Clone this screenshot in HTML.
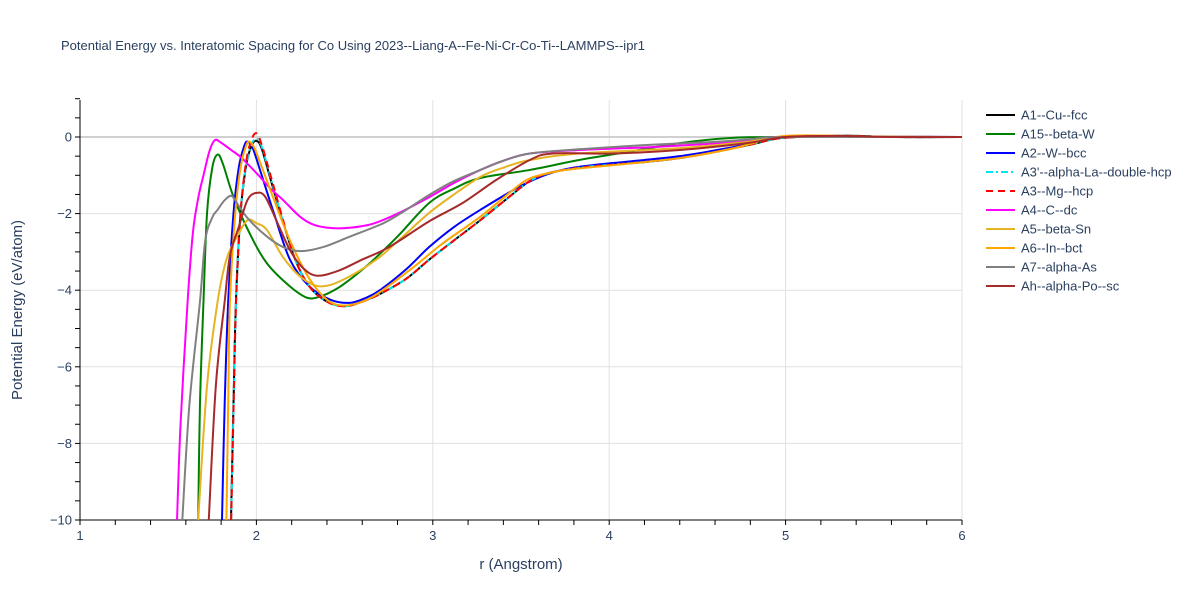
<!DOCTYPE html>
<html><head><meta charset="utf-8"><style>
body{margin:0;background:#fff;font-family:"Liberation Sans",Arial,sans-serif}
svg text{font-family:"Liberation Sans",Arial,sans-serif}
</style></head><body>
<svg id="c" width="1200" height="600" xmlns="http://www.w3.org/2000/svg">
<rect width="1200" height="600" fill="#fff"/>
<text x="61" y="50" font-size="13" fill="#2a3f5f">Potential Energy vs. Interatomic Spacing for Co Using 2023--Liang-A--Fe-Ni-Cr-Co-Ti--LAMMPS--ipr1</text>
<g id="grid"></g><g id="axes"></g>
<defs><clipPath id="pc"><rect x="80" y="100" width="882" height="420"/></clipPath></defs>
<g id="series" clip-path="url(#pc)"></g>
<g id="legend"></g>
<text x="521" y="569" font-size="15" fill="#2a3f5f" text-anchor="middle">r (Angstrom)</text>
<text transform="translate(22,310) rotate(-90)" font-size="15" fill="#2a3f5f" text-anchor="middle">Potential Energy (eV/atom)</text>
</svg>
<script>
const xTicks=[1,2,3,4,5,6];
const yTicks=[0,-2,-4,-6,-8,-10];
const seriesNames=["A1--Cu--fcc","A15--beta-W","A2--W--bcc","A3'--alpha-La--double-hcp","A3--Mg--hcp","A4--C--dc","A5--beta-Sn","A6--In--bct","A7--alpha-As","Ah--alpha-Po--sc"];
const seriesColors=["#000000","#008000","#0000ff","#00e5ee","#ff0000","#ff00ff","#e6b422","#ffa500","#808080","#a52a2a"];
const seriesDash=["","","","7,3,2,3","7,5","","","","",""];
const sA1=[[1.856,-10],[1.87,-7],[1.884,-4.3],[1.91,-2],[1.94,-0.8],[1.97,-0.25],[2.0,-0.1],[2.03,-0.3],[2.08,-1.1],[2.15,-2.2],[2.22,-3.2],[2.3,-3.9],[2.4,-4.3],[2.5,-4.42],[2.6,-4.3],[2.7,-4.1],[2.85,-3.7],[2.98,-3.2],[3.12,-2.7],[3.27,-2.17],[3.45,-1.5],[3.55,-1.15],[3.65,-0.95],[3.83,-0.8],[4.0,-0.73],[4.21,-0.65],[4.4,-0.55],[4.59,-0.4],[4.8,-0.2],[4.97,-0.03],[5.2,0.02],[5.4,0.03],[5.6,0],[6,0]];
const sA15=[[1.67,-10],[1.68,-7],[1.70,-4.3],[1.72,-2],[1.75,-0.8],[1.78,-0.46],[1.81,-0.7],[1.87,-1.56],[1.96,-2.5],[2.06,-3.3],[2.19,-3.9],[2.29,-4.2],[2.37,-4.15],[2.46,-3.95],[2.55,-3.65],[2.63,-3.35],[2.70,-3.05],[2.81,-2.55],[2.98,-1.72],[3.12,-1.35],[3.27,-1.07],[3.55,-0.86],[3.83,-0.6],[4.12,-0.38],[4.4,-0.16],[4.68,-0.03],[5.0,0],[6,0]];
const sA2=[[1.805,-10],[1.82,-7],[1.84,-4.3],[1.87,-2],[1.9,-0.8],[1.93,-0.25],[1.95,-0.12],[1.98,-0.3],[2.03,-1.0],[2.1,-2.0],[2.19,-3.2],[2.3,-3.9],[2.42,-4.25],[2.53,-4.33],[2.62,-4.2],[2.7,-4.0],[2.85,-3.45],[2.98,-2.87],[3.12,-2.35],[3.27,-1.9],[3.49,-1.3],[3.65,-0.97],[3.8,-0.8],[4.02,-0.68],[4.2,-0.6],[4.4,-0.5],[4.6,-0.35],[4.78,-0.2],[5.0,0],[6,0]];
const sA3p=[[1.857,-10],[1.871,-7],[1.885,-4.3],[1.91,-2],[1.94,-0.8],[1.97,-0.22],[2.0,-0.05],[2.03,-0.25],[2.08,-1.05],[2.15,-2.2],[2.22,-3.2],[2.3,-3.9],[2.4,-4.3],[2.5,-4.42],[2.6,-4.3],[2.7,-4.1],[2.85,-3.7],[2.98,-3.2],[3.12,-2.7],[3.27,-2.17],[3.45,-1.5],[3.55,-1.15],[3.65,-0.95],[3.83,-0.8],[4.0,-0.73],[4.21,-0.65],[4.4,-0.55],[4.59,-0.4],[4.8,-0.2],[4.97,-0.03],[5.2,0.02],[5.4,0.03],[5.6,0],[6,0]];
const sA3=[[1.857,-10],[1.871,-7],[1.885,-4.3],[1.91,-2],[1.94,-0.7],[1.97,-0.1],[2.0,0.1],[2.03,-0.2],[2.08,-1.0],[2.15,-2.15],[2.22,-3.2],[2.3,-3.9],[2.4,-4.3],[2.5,-4.42],[2.6,-4.3],[2.7,-4.1],[2.85,-3.7],[2.98,-3.2],[3.12,-2.7],[3.27,-2.17],[3.45,-1.5],[3.55,-1.15],[3.65,-0.95],[3.83,-0.8],[4.0,-0.73],[4.21,-0.65],[4.4,-0.55],[4.59,-0.4],[4.8,-0.2],[4.97,-0.03],[5.2,0.02],[5.4,0.03],[5.6,0],[6,0]];
const sA4=[[1.55,-10],[1.57,-7.5],[1.61,-4.3],[1.64,-2.5],[1.67,-1.6],[1.70,-1.0],[1.735,-0.35],[1.765,-0.08],[1.8,-0.15],[1.86,-0.35],[1.91,-0.52],[1.96,-0.75],[2.02,-1.04],[2.08,-1.35],[2.15,-1.64],[2.25,-2.09],[2.33,-2.3],[2.43,-2.38],[2.53,-2.37],[2.63,-2.3],[2.70,-2.2],[2.81,-1.98],[2.98,-1.57],[3.12,-1.2],[3.27,-0.86],[3.4,-0.62],[3.55,-0.43],[3.83,-0.34],[4.21,-0.27],[4.59,-0.17],[4.8,-0.08],[5,0],[6,0]];
const sA5=[[1.67,-10],[1.72,-6.5],[1.78,-4.3],[1.83,-3.2],[1.89,-2.6],[1.95,-2.17],[2.0,-2.25],[2.06,-2.43],[2.15,-3.13],[2.25,-3.65],[2.36,-3.9],[2.49,-3.73],[2.68,-3.2],[2.83,-2.6],[2.98,-1.98],[3.12,-1.5],[3.27,-1.04],[3.4,-0.8],[3.55,-0.6],[3.83,-0.43],[4.4,-0.29],[4.78,-0.13],[5,0],[6,0]];
const sA6=[[1.83,-10],[1.84,-7],[1.85,-4.3],[1.88,-2],[1.91,-0.8],[1.94,-0.25],[1.96,-0.12],[1.99,-0.3],[2.04,-0.9],[2.1,-1.64],[2.19,-2.7],[2.3,-3.7],[2.4,-4.25],[2.49,-4.4],[2.6,-4.3],[2.7,-4.05],[2.89,-3.4],[3.05,-2.8],[3.27,-2.08],[3.45,-1.4],[3.55,-1.08],[3.7,-0.9],[3.83,-0.82],[4.1,-0.7],[4.4,-0.55],[4.7,-0.3],[4.9,-0.05],[5.0,0.03],[5.2,0.04],[5.5,0.01],[6,0]];
const sA7=[[1.58,-10],[1.62,-7],[1.68,-4.3],[1.71,-2.7],[1.75,-2.1],[1.78,-1.9],[1.82,-1.65],[1.86,-1.54],[1.9,-1.8],[1.96,-2.17],[2.06,-2.6],[2.15,-2.87],[2.25,-2.98],[2.38,-2.87],[2.53,-2.6],[2.72,-2.25],[2.85,-1.9],[2.98,-1.51],[3.12,-1.15],[3.27,-0.86],[3.4,-0.62],[3.55,-0.43],[3.83,-0.32],[4.21,-0.21],[4.59,-0.13],[4.8,-0.06],[5,0],[6,0]];
const sAh=[[1.73,-10],[1.77,-6.5],[1.82,-4.3],[1.85,-3.1],[1.90,-2.35],[1.95,-1.64],[2.0,-1.46],[2.05,-1.56],[2.12,-2.25],[2.19,-2.95],[2.26,-3.4],[2.34,-3.62],[2.46,-3.5],[2.6,-3.2],[2.75,-2.88],[2.98,-2.2],[3.17,-1.72],[3.36,-1.12],[3.55,-0.6],[3.68,-0.43],[4.02,-0.43],[4.4,-0.34],[4.78,-0.16],[5,0],[5.3,0.03],[5.6,0],[6,0]];
const allSeries=[sA1,sA15,sA2,sA3p,sA3,sA4,sA5,sA6,sA7,sAh];
const NS="http://www.w3.org/2000/svg";
const X0=80,X1=962,Y0=137,YS=38.3;
function xs(r){return X0+(r-1)*(X1-X0)/5;}
function ys(e){return Y0-e*YS;}
function mk(t,a,p){const e=document.createElementNS(NS,t);for(const k in a)e.setAttribute(k,a[k]);p.appendChild(e);return e;}
const grid=document.getElementById('grid'),axes=document.getElementById('axes');
xTicks.slice(1).forEach(t=>{const l=mk('line',{x1:xs(t),x2:xs(t),y1:100,y2:520,stroke:'#e0e0e0','stroke-width':1},grid);

});
yTicks.slice(0,5).forEach(t=>{const l=mk('line',{x1:80,x2:962,y1:ys(t),y2:ys(t),stroke:t===0?'#d0d0d0':'#e0e0e0','stroke-width':t===0?2:1},grid);

});
mk('line',{x1:80,x2:80,y1:100,y2:520,stroke:'#000'},axes);
mk('line',{x1:80,x2:962,y1:520,y2:520,stroke:'#000'},axes);
for(let r=1;r<=6.001;r+=0.2)mk('line',{x1:xs(r),x2:xs(r),y1:520,y2:525,stroke:'#000'},axes);
for(let e=1;e>=-10.001;e-=0.5)mk('line',{x1:75,x2:80,y1:ys(e),y2:ys(e),stroke:'#000'},axes);
xTicks.forEach(t=>{const tx=mk('text',{x:xs(t),y:540,'font-size':13,fill:'#2a3f5f','text-anchor':'middle'},axes);tx.textContent=t;

});
yTicks.forEach(t=>{const tx=mk('text',{x:72,y:ys(t)+4.5,'font-size':13,fill:'#2a3f5f','text-anchor':'end'},axes);tx.textContent=t<0?'\u2212'+(-t):t;

});
function pathOf(pts){const p=pts.map(q=>[xs(q[0]),ys(q[1])]);let d='M'+p[0][0]+','+p[0][1];
for(let i=0;i<p.length-1;i++){const a=p[Math.max(0,i-1)],b=p[i],c=p[i+1],e=p[Math.min(p.length-1,i+2)];
d+=' C'+(b[0]+(c[0]-a[0])/6)+','+(b[1]+(c[1]-a[1])/6)+' '+(c[0]-(e[0]-b[0])/6)+','+(c[1]-(e[1]-b[1])/6)+' '+c[0]+','+c[1];}return d;}
const sg=document.getElementById('series'),lg=document.getElementById('legend');
allSeries.forEach((s,i)=>{const p=mk('path',{d:pathOf(s),fill:'none',stroke:seriesColors[i],'stroke-width':2},sg);
if(seriesDash[i])p.setAttribute('stroke-dasharray',seriesDash[i]);


const y=115+i*19;const g=mk('g',{},lg);


const l=mk('line',{x1:986,x2:1015,y1:y,y2:y,stroke:seriesColors[i],'stroke-width':2},g);
if(seriesDash[i])l.setAttribute('stroke-dasharray',seriesDash[i]);
const t=mk('text',{x:1021,y:y+4.5,'font-size':13,fill:'#2a3f5f'},g);t.textContent=seriesNames[i];});
</script>
</body></html>
